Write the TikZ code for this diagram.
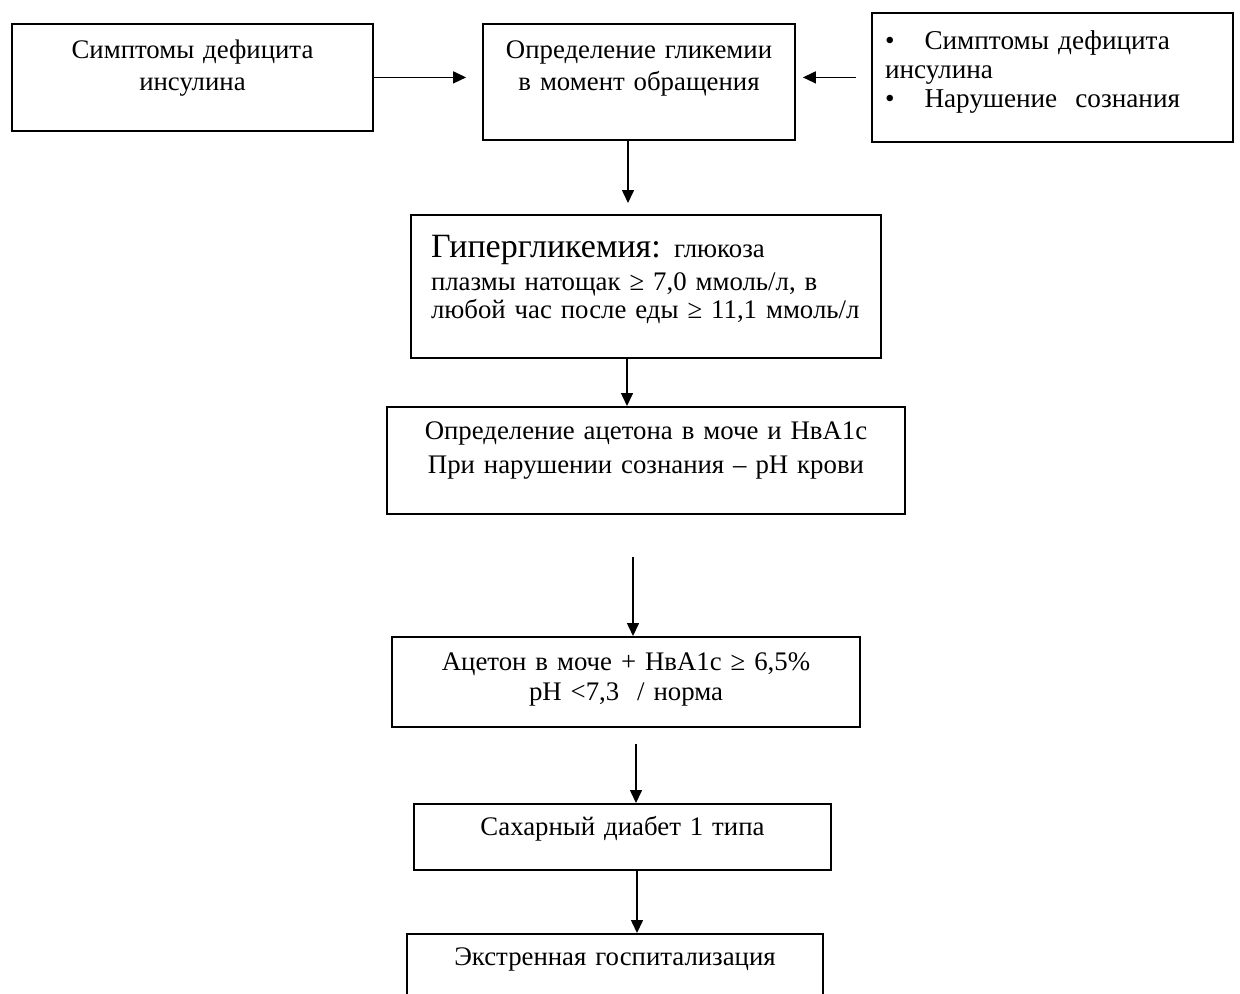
\documentclass[tikz,border=0pt]{standalone}
\usepackage{fontspec}
\setmainfont{Liberation Serif}
\usetikzlibrary{arrows.meta}

\begin{document}
\begin{tikzpicture}[x=0.5pt, y=-0.5pt,
  box/.style={draw, line width=0.9pt, anchor=north, inner sep=0pt, align=center, font=\fontsize{13.4}{16}\selectfont},
  arr/.style={line width=0.75pt, -{Triangle[length=6.5pt, width=6pt]}}]
  \clip (0,0) rectangle (1240,993);
  \fill[white] (0,0) rectangle (1240,993);
  % top row
  \node[box, text width=180.5pt, text height=17.5pt, text depth=36pt] (symptoms) at (192.5,23) {Симптомы дефицита\\инсулина};
  \node[box, text width=156pt, text height=17.5pt, text depth=40.5pt] (glycemia) at (639,23) {Определение гликемии\\в момент обращения};
  \node[box, align=left, inner xsep=6.5pt, text width=167.5pt, text height=18.5pt, text depth=46pt, font=\fontsize{13.6}{14.5}\selectfont] (signs) at (1052.5,12) {\textbullet\hspace{15pt}Симптомы дефицита\\инсулина\\\textbullet\hspace{15pt}Нарушение\ \ сознания};
  % main column
  \node[box, align=left, inner xsep=10pt, text width=215pt, text height=21.5pt, text depth=50pt, font=\fontsize{13.4}{14}\selectfont] (hyper) at (646,214) {{\fontsize{17}{17}\selectfont Гипергликемия:} глюкоза\\[2.5pt]плазмы натощак ≥ 7,0 ммоль/л, в\\\hbox{любой час после еды ≥ 11,1 ммоль/л}};
  \node[box, text width=259pt, text height=16.5pt, text depth=37pt, font=\fontsize{13.4}{17}\selectfont] (acetone) at (646,406) {Определение ацетона в моче и НвА1с\\При нарушении сознания – рН крови};
  \node[box, text width=234pt, text height=17pt, text depth=28pt, font=\fontsize{13.4}{15}\selectfont] (result) at (626,636) {Ацетон в моче + НвА1с ≥ 6,5\%\\рН <7,3 \ / норма};
  \node[box, text width=208.5pt, text height=16pt, text depth=17pt] (type1) at (622.5,803) {Сахарный диабет 1 типа};
  \node[box, text width=208pt, text height=16pt, text depth=30pt] (hospital) at (615,933) {Экстренная госпитализация};
  % arrows
  \draw[arr, shorten >=8pt] (symptoms.east) -- (symptoms.east -| glycemia.west);
  \draw[arr, shorten <=7.5pt, shorten >=3.5pt] (signs.west) -- (signs.west -| glycemia.east);
  \draw[arr, shorten >=5.5pt] ([xshift=-5.5pt]glycemia.south) -- ([xshift=-5.5pt]glycemia.south |- hyper.north);
  \draw[arr] ([xshift=-9.5pt]hyper.south) -- ([xshift=-9.5pt]hyper.south |- acetone.north);
  \draw[arr, shorten <=21pt] ([xshift=-6.5pt]acetone.south) -- ([xshift=-6.5pt]acetone.south |- result.north);
  \draw[arr, shorten <=8pt] ([xshift=5pt]result.south) -- ([xshift=5pt]result.south |- type1.north);
  \draw[arr] ([xshift=7.25pt]type1.south) -- ([xshift=7.25pt]type1.south |- hospital.north);
\end{tikzpicture}
\end{document}
